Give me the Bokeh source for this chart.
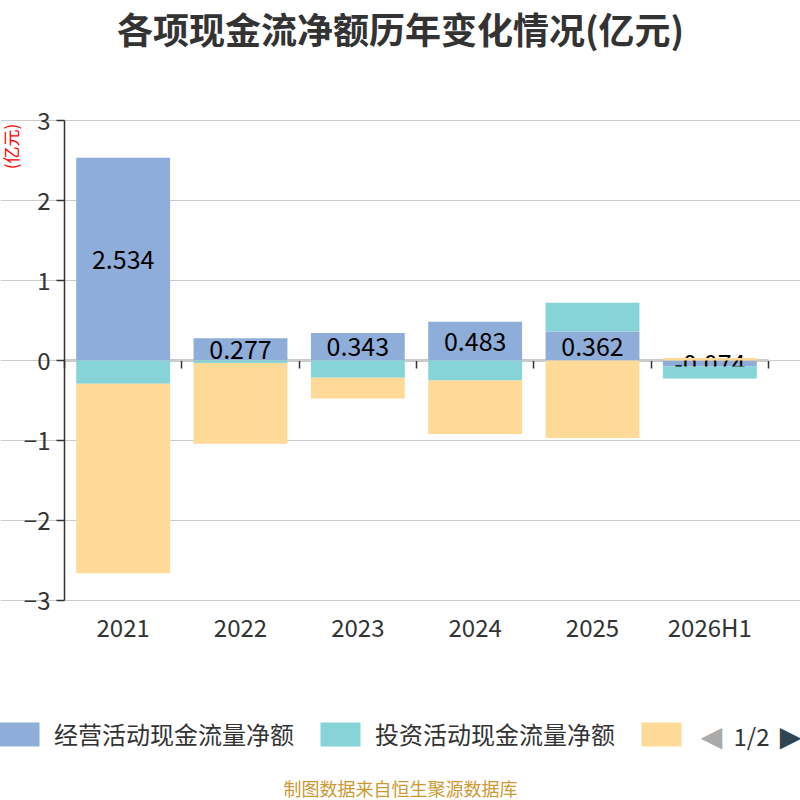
import numpy as np
from bokeh.plotting import figure
from bokeh.models import (ColumnDataSource, Range1d, LinearAxis, FixedTicker, Grid, Label,
                          Legend, LegendItem)
from bokeh.core.properties import value
from bokeh.embed import file_html
from bokeh.resources import INLINE

FONT = "Noto Sans CJK SC"

years = ["2021", "2022", "2023", "2024", "2025", "2026H1"]
operating = [2.534, 0.277, 0.343, 0.483, 0.362, -0.074]
investing = [-0.29, -0.03, -0.215, -0.25, 0.36, -0.15]
financing = [-2.37, -1.01, -0.26, -0.67, -0.97, 0.03]
series_names = ["经营活动现金流量净额", "投资活动现金流量净额", "筹资活动现金流量净额"]
colors = ["#8fadd9", "#86d4d8", "#ffd998"]
y_ticks = [-3, -2, -1, 0, 1, 2, 3]

W, H = 800, 800
# plot box inside the canvas (pixels): left, right, top, bottom
BOX_L, BOX_R, BOX_T, BOX_B = 64, 768, 120, 600
Y_MIN, Y_MAX = y_ticks[0], y_ticks[-1]
n = len(years)

# slot centres on a numeric axis so the zero line can carry ticks between slots
xpos = np.arange(n) + 0.5


# stack positives and negatives separately, like echarts does
def stack(series_list):
    pos = np.zeros(n)
    neg = np.zeros(n)
    out = []
    for vals in series_list:
        vals = np.asarray(vals, dtype=float)
        bottom = np.where(vals >= 0, pos, neg + vals)
        top = np.where(vals >= 0, pos + vals, neg)
        pos = np.where(vals >= 0, pos + vals, pos)
        neg = np.where(vals < 0, neg + vals, neg)
        out.append((bottom, top))
    return out


stacks = stack([operating, investing, financing])

# the frame fills the whole canvas; the ranges are widened so that the
# axis box sits where the reference has it, and every text can be drawn
xu = (BOX_R - BOX_L) / n
yu = (BOX_B - BOX_T) / (Y_MAX - Y_MIN)
x_range = Range1d(-BOX_L / xu, n + (W - BOX_R) / xu)
y_range = Range1d(Y_MIN - (H - BOX_B) / yu, Y_MAX + BOX_T / yu)

p = figure(x_range=x_range, y_range=y_range, width=W, height=H, title=None,
           x_axis_location=None, y_axis_location=None,
           output_backend="svg", toolbar_location=None, min_border=0)
p.outline_line_color = None
p.grid.visible = False

p.add_layout(Grid(dimension=1, ticker=FixedTicker(ticks=y_ticks), bounds=(0, n),
                  grid_line_color="#cccccc", grid_line_width=1.2))

yaxis = LinearAxis(fixed_location=0, bounds=(Y_MIN, Y_MAX), ticker=FixedTicker(ticks=y_ticks),
                   axis_line_color="#333333", axis_line_width=1.5,
                   major_tick_line_color="#333333", major_tick_line_width=1.5,
                   major_tick_out=8, major_tick_in=0, minor_tick_line_color=None,
                   major_label_standoff=6, major_label_text_font_size="24px",
                   major_label_text_color="#333333", major_label_text_font=FONT)
p.add_layout(yaxis, "left")

xlabels = LinearAxis(fixed_location=Y_MIN, ticker=FixedTicker(ticks=list(xpos)),
                     major_label_overrides={float(x): y for x, y in zip(xpos, years)},
                     axis_line_color=None, major_tick_line_color=None,
                     minor_tick_line_color=None, major_label_standoff=2,
                     major_label_text_font_size="24px", major_label_text_color="#333333",
                     major_label_text_font=FONT)
p.add_layout(xlabels, "below")

# axis line at zero with ticks between categories, no labels of its own
zero_ticks = list(range(n + 1))
zero_axis = LinearAxis(fixed_location=0, bounds=(0, n),
                       ticker=FixedTicker(ticks=zero_ticks),
                       major_label_overrides={t: "" for t in zero_ticks},
                       axis_line_color="#333333", axis_line_width=1.5,
                       major_tick_line_color="#333333", major_tick_line_width=1.5,
                       major_tick_out=8, major_tick_in=0, minor_tick_line_color=None,
                       level="underlay")
p.add_layout(zero_axis, "below")

renderers = []
for i, (bottom, top) in enumerate(stacks):
    src = ColumnDataSource(dict(x=xpos, bottom=bottom, top=top))
    r = p.vbar(x="x", bottom="bottom", top="top", width=0.8, source=src,
               fill_color=colors[i], line_color=None)
    renderers.append(r)
    if i == 0:
        lab = ColumnDataSource(dict(x=xpos, mid=(bottom + top) / 2,
                                    text=["%.3f" % v for v in operating]))
        p.text(x="x", y="mid", text="text", source=lab, text_align="center",
               text_baseline="middle", text_font=value(FONT), text_font_size="25px",
               text_color="#000000")

legend = Legend(items=[LegendItem(label=series_names[0], renderers=[renderers[0]]),
                       LegendItem(label=series_names[1], renderers=[renderers[1]]),
                       LegendItem(label=" ", renderers=[renderers[2]])],
                orientation="horizontal", location=(-6, H - 751),
                glyph_width=50, glyph_height=30, label_standoff=10, spacing=21,
                padding=0, margin=0, border_line_color=None, background_fill_alpha=0,
                label_text_font_size="24px", label_text_color="#333333",
                label_text_font=FONT)
p.add_layout(legend)


def screen_label(px, py, text, size, color, font=FONT, **kw):
    # px, py measured from the top-left corner of the canvas
    p.add_layout(Label(x=px, y=H - py, x_units="screen", y_units="screen", text=text,
                       text_align="center", text_baseline="middle", text_font=font,
                       text_font_size=size, text_color=color, **kw))


screen_label(400, 27, "各项现金流净额历年变化情况(亿元)", "36px", "#333333",
             text_font_style="bold")
screen_label(10, 146, "(亿元)", "17px", "#ff0000", angle=np.pi / 2)
screen_label(400, 787, "制图数据来自恒生聚源数据库", "18px", "#cc9933")
screen_label(711, 736, "◀", "28px", "#aaaaaa", font="DejaVu Sans")
screen_label(751, 735, "1/2", "24px", "#333333")
screen_label(790, 736, "▶", "28px", "#2f4554", font="DejaVu Sans")

open("out.html", "w").write(file_html(p, INLINE))
